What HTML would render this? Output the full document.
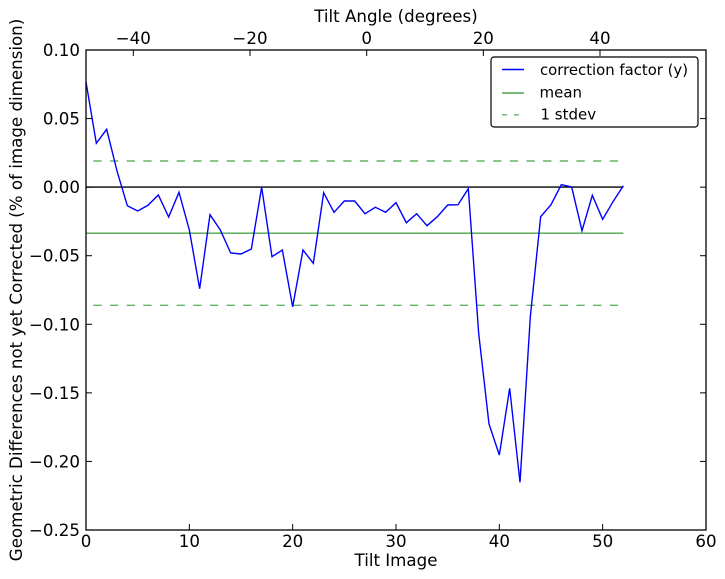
<!DOCTYPE html>
<html><head><meta charset="utf-8"><style>
html,body{margin:0;padding:0;background:#fff;}
svg{display:block;}
text{font-family:"DejaVu Sans","Liberation Sans",sans-serif;font-size:16.67px;fill:#000;}
text.lg{font-size:15px;}
</style></head><body>
<svg width="725" height="579" viewBox="0 0 725 579" xmlns="http://www.w3.org/2000/svg">
<rect x="0" y="0" width="725" height="579" fill="#fff"/>
<!-- reference lines -->
<line x1="86" y1="187.1" x2="623.3" y2="187.1" stroke="#000" stroke-width="1.4"/>
<line x1="86" y1="233.2" x2="623.3" y2="233.2" stroke="#008000" stroke-opacity="0.7" stroke-width="1.4"/>
<line x1="86" y1="161" x2="623.3" y2="161" stroke="#008000" stroke-opacity="0.6" stroke-width="1.4" stroke-dasharray="8.33,8.33" stroke-dashoffset="-7.3"/>
<line x1="86" y1="305.3" x2="623.3" y2="305.3" stroke="#008000" stroke-opacity="0.6" stroke-width="1.4" stroke-dasharray="8.33,8.33" stroke-dashoffset="-7.3"/>
<!-- data -->
<polyline fill="none" stroke="#0000ff" stroke-width="1.4" stroke-linejoin="miter" points="
86,82 96.33,143.3 106.67,129.3 117,171 127.33,205.7 137.67,211 148,205.3 158.33,195 168.67,217 179,192.3
189.33,230 199.67,288.7 210,214.7 220.33,230 230.67,253 241,254 251.33,249 261.67,187.3 272,256.7 282.33,250
292.67,306.7 303,250 313.33,263.3 323.67,192.7 334,212.3 344.33,201 354.67,201 365,213.7 375.33,207.3 385.67,212.3
396,202.7 406.33,222.7 416.67,213.7 427,225.7 437.33,216.7 447.67,205 458,204.7 468.33,188.7 478.67,333.3 489,424
499.33,455 509.67,388.3 520,482.3 530.33,316.7 540.67,216.7 551,204.7 561.33,184.7 571.67,187 582,230.7 592.33,195.3
602.67,219.3 613,201.7 623.33,185.7"/>
<!-- frame -->
<rect x="86" y="50" width="620" height="480" fill="none" stroke="#000" stroke-width="1.3"/>
<!-- bottom ticks -->
<g stroke="#000" stroke-width="1">
<line x1="86" y1="530" x2="86" y2="524"/>
<line x1="189.33" y1="530" x2="189.33" y2="524"/>
<line x1="292.67" y1="530" x2="292.67" y2="524"/>
<line x1="396" y1="530" x2="396" y2="524"/>
<line x1="499.33" y1="530" x2="499.33" y2="524"/>
<line x1="602.67" y1="530" x2="602.67" y2="524"/>
<line x1="706" y1="530" x2="706" y2="524"/>
<!-- top ticks -->
<line x1="133.3" y1="50" x2="133.3" y2="56"/>
<line x1="250" y1="50" x2="250" y2="56"/>
<line x1="366.7" y1="50" x2="366.7" y2="56"/>
<line x1="483.3" y1="50" x2="483.3" y2="56"/>
<line x1="600" y1="50" x2="600" y2="56"/>
<!-- left/right ticks -->
<line x1="86" y1="118.57" x2="92" y2="118.57"/><line x1="706" y1="118.57" x2="700" y2="118.57"/>
<line x1="86" y1="187.14" x2="92" y2="187.14"/><line x1="706" y1="187.14" x2="700" y2="187.14"/>
<line x1="86" y1="255.71" x2="92" y2="255.71"/><line x1="706" y1="255.71" x2="700" y2="255.71"/>
<line x1="86" y1="324.29" x2="92" y2="324.29"/><line x1="706" y1="324.29" x2="700" y2="324.29"/>
<line x1="86" y1="392.86" x2="92" y2="392.86"/><line x1="706" y1="392.86" x2="700" y2="392.86"/>
<line x1="86" y1="461.43" x2="92" y2="461.43"/><line x1="706" y1="461.43" x2="700" y2="461.43"/>
</g>
<!-- y tick labels -->
<g text-anchor="end">
<text x="80" y="56">0.10</text>
<text x="80" y="124.6">0.05</text>
<text x="80" y="193.1">0.00</text>
<text x="80" y="261.7">−0.05</text>
<text x="80" y="330.3">−0.10</text>
<text x="80" y="398.9">−0.15</text>
<text x="80" y="467.4">−0.20</text>
<text x="80" y="536">−0.25</text>
</g>
<!-- bottom tick labels -->
<g text-anchor="middle">
<text x="86" y="547">0</text>
<text x="189.33" y="547">10</text>
<text x="292.67" y="547">20</text>
<text x="396" y="547">30</text>
<text x="499.33" y="547">40</text>
<text x="602.67" y="547">50</text>
<text x="706" y="547">60</text>
<text x="396" y="566">Tilt Image</text>
<!-- top tick labels -->
<text x="133.3" y="44">−40</text>
<text x="250" y="44">−20</text>
<text x="366.7" y="44">0</text>
<text x="483.3" y="44">20</text>
<text x="600" y="44">40</text>
<text x="396" y="22">Tilt Angle (degrees)</text>
</g>
<text transform="translate(22,290) rotate(-90)" text-anchor="middle">Geometric Differences not yet Corrected (% of image dimension)</text>
<!-- legend -->
<rect x="491" y="57" width="207" height="70" rx="3" ry="3" fill="#fff" stroke="#000" stroke-width="1.2"/>
<line x1="502" y1="69.5" x2="524" y2="69.5" stroke="#0000ff" stroke-width="1.4"/>
<line x1="502" y1="93" x2="524" y2="93" stroke="#008000" stroke-opacity="0.7" stroke-width="1.4"/>
<line x1="502" y1="114.8" x2="524" y2="114.8" stroke="#008000" stroke-opacity="0.6" stroke-width="1.4" stroke-dasharray="5,7"/>
<text class="lg" x="540" y="75" textLength="148" lengthAdjust="spacingAndGlyphs">correction factor (y)</text>
<text class="lg" x="539.5" y="97.5">mean</text>
<text class="lg" x="540.5" y="119.5">1 stdev</text>
</svg>
</body></html>
